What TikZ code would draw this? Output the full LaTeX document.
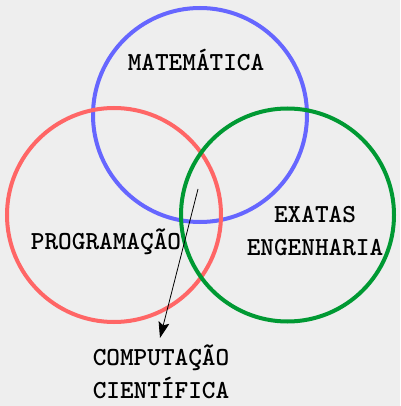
\documentclass[tikz,border=0pt]{standalone}
\usetikzlibrary{arrows.meta}
\definecolor{bg}{HTML}{EEEEEE}
\definecolor{cblue}{HTML}{6666FF}
\definecolor{cred}{HTML}{FF6666}
\definecolor{cgreen}{HTML}{009933}
\begin{document}
\begin{tikzpicture}[x=1pt,y=-1pt,
  ring/.style={line width=4pt},
  lbl/.style={font=\fontsize{26}{33.5}\selectfont\ttfamily\bfseries, align=center, inner sep=0pt}]
\fill[bg] (0,0) rectangle (400,406);
\useasboundingbox (0,0) rectangle (400,406);
\draw[ring, cblue] (200,115) circle[radius=107];
\draw[ring, cred] (114,215) circle[radius=107];
\draw[ring, cgreen] (287.5,215) circle[radius=106.5];
\node[lbl] (mat) at (196,60) {MATEMÁTICA};
\node[lbl] (prog) at (106,242) {PROGRAMAÇÃO};
\node[lbl] (exa) at (315,231) {EXATAS\\ENGENHARIA};
\node[lbl] (comp) at (161,372) {COMPUTAÇÃO\\CIENTÍFICA};
\coordinate (start) at (198,189);
\coordinate (tip) at (160,338);
\draw[line width=0.8pt, -{Stealth[length=16pt,width=11pt,inset=3pt]}] (start) -- (tip);
\end{tikzpicture}
\end{document}
